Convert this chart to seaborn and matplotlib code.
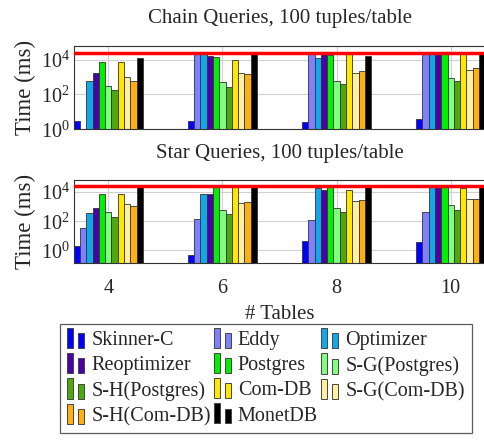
import matplotlib
matplotlib.use("Agg")
import matplotlib.pyplot as plt
import matplotlib.ticker as mticker
from matplotlib.legend_handler import HandlerBase
from matplotlib.patches import Rectangle
import numpy as np
import pandas as pd
import seaborn as sns

# ---- data (ms) --------------------------------------------------------------
TABLES = ["4", "6", "8", "10"]
SYSTEMS = ["Skinner-C", "Eddy", "Optimizer", "Reoptimizer", "Postgres",
           "S-G(Postgres)", "S-H(Postgres)", "Com-DB", "S-G(Com-DB)",
           "S-H(Com-DB)", "MonetDB"]
COLORS = ["#0000ff", "#8080ff", "#10a8e8", "#4c00a8", "#00f000",
          "#80ff80", "#4ca80c", "#ffe800", "#fff0a0", "#ffb010", "#000000"]
TIMEOUT = 2.5e4

# one list per table count, values in SYSTEMS order
CHAIN_4 = [3, np.nan, 630, 1660, 7700, 325, 178, 7700, 1070, 600, 13000]
CHAIN_6 = [3, TIMEOUT, TIMEOUT, 15500, 15000, 550, 263, 10000, 1600, 1450, TIMEOUT]
CHAIN_8 = [2.5, TIMEOUT, 13000, TIMEOUT, 18000, 630, 390, TIMEOUT, 1800, 2240, 15500]
CHAIN_10 = [3.7, TIMEOUT, TIMEOUT, TIMEOUT, TIMEOUT, 940, 600, TIMEOUT, 2450, 3200, TIMEOUT]

STAR_4 = [2, 34, 390, 870, 7600, 430, 200, 7600, 1420, 1150, TIMEOUT]
STAR_6 = [0.45, 138, 7200, 7600, 22000, 630, 310, TIMEOUT, 1780, 2200, TIMEOUT]
STAR_8 = [4.6, 118, 18000, 14000, TIMEOUT, 870, 460, 14500, 2300, 2750, TIMEOUT]
STAR_10 = [3.9, 460, TIMEOUT, 22000, 21000, 1350, 600, 20000, 3200, 3200, TIMEOUT]


def to_frame(groups):
    rows = []
    for t, vals in zip(TABLES, groups):
        for s, v in zip(SYSTEMS, vals):
            rows.append({"tables": t, "system": s, "ms": v})
    return pd.DataFrame(rows)


chain = to_frame([CHAIN_4, CHAIN_6, CHAIN_8, CHAIN_10])
star = to_frame([STAR_4, STAR_6, STAR_8, STAR_10])

# ---- style ------------------------------------------------------------------
sns.set_style("whitegrid")
plt.rcParams["font.family"] = ["Liberation Serif", "DejaVu Serif"]
plt.rcParams["mathtext.fontset"] = "stix"
FS_TITLE = 15
FS_TICK = 14.5
FS_YLAB = 16.5
FS_LEG = 14.5


class TwoBars(HandlerBase):
    def create_artists(self, legend, orig, xd, yd, w, h, fontsize, trans):
        bw = w * 0.32
        r1 = Rectangle((xd, yd - h * 0.2), bw, h * 1.45, facecolor=orig.get_facecolor(),
                       edgecolor="#444444", lw=0.7, transform=trans)
        r2 = Rectangle((xd + w * 0.62, yd - h * 0.2), bw, h * 1.05, facecolor=orig.get_facecolor(),
                       edgecolor="#444444", lw=0.7, transform=trans)
        return [r1, r2]


def draw(ax, df, title, ylim):
    sns.barplot(data=df, x="tables", y="ms", hue="system", hue_order=SYSTEMS,
                order=TABLES, palette=COLORS, width=0.605, dodge=True,
                edgecolor="#333333", linewidth=0.6, saturation=1, ax=ax,
                legend=False, errorbar=None)
    ax.set_yscale("log")
    ax.set_ylim(*ylim)
    ax.set_xlim(-0.3, 3.3)
    ax.axhline(TIMEOUT, color="red", lw=2.5, zorder=5)
    ax.yaxis.set_major_locator(mticker.LogLocator(base=100, numticks=10))
    ax.yaxis.set_minor_locator(mticker.NullLocator())
    ax.yaxis.set_major_formatter(mticker.LogFormatterMathtext(base=10))
    ax.grid(True, color="#d0d0d0", lw=0.8)
    ax.set_axisbelow(True)
    for sp in ax.spines.values():
        sp.set_color("#333333")
        sp.set_linewidth(0.8)
    ax.tick_params(labelsize=FS_TICK, length=0, pad=3)
    ax.set_ylabel("Time (ms)", fontsize=FS_YLAB, labelpad=3)
    ax.set_title(title, fontsize=FS_TITLE, pad=16)


fig = plt.figure(figsize=(4.84, 4.45), dpi=100)
ax1 = fig.add_axes([74 / 484, 1 - 129.3 / 445, 411 / 484, 83.6 / 445])
ax2 = fig.add_axes([74 / 484, 1 - 263.3 / 445, 411 / 484, 83.3 / 445])

draw(ax1, chain, "Chain Queries, 100 tuples/table", (1, 10 ** 4.80))
draw(ax2, star, "Star Queries, 100 tuples/table", (10 ** -0.89, 10 ** 4.835))
ax1.set_xlabel("")
ax1.set_xticklabels([])
ax2.tick_params(axis="x", pad=11)
ax2.set_xlabel("# Tables", fontsize=FS_TITLE, labelpad=5)

handles = [Rectangle((0, 0), 1, 1, facecolor=c) for c in COLORS]
order = [0, 3, 6, 9, 1, 4, 7, 10, 2, 5, 8]
leg = fig.legend([handles[i] for i in order], [SYSTEMS[i] for i in order],
                 handler_map={Rectangle: TwoBars()}, ncol=3,
                 loc="upper left", bbox_to_anchor=(60 / 484, 1 - 324 / 445),
                 borderaxespad=0, fontsize=FS_LEG, frameon=True, fancybox=False,
                 edgecolor="#333333", handlelength=0.9, handleheight=0.7,
                 handletextpad=0.3, columnspacing=0.15, labelspacing=0.3,
                 borderpad=0.35)
leg.get_frame().set_linewidth(0.9)

fig.savefig("out.png", dpi=100)
